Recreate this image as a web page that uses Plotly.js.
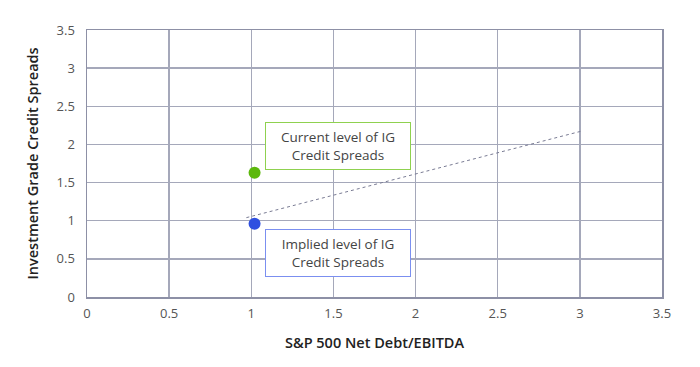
<!DOCTYPE html>
<html><head><meta charset="utf-8">
<script src="https://cdn.plot.ly/plotly-3.0.1.min.js"></script>
<style>html,body{margin:0;padding:0;background:#fff}#c{width:700px;height:367px}</style>
</head><body><div id="c"></div>
<script>
const currentX = [1.02];
const currentY = [1.63];
const impliedX = [1.02];
const impliedY = [0.96];
const trendX = [0.97, 3.02];
const trendY = [1.04, 2.18];
const xTicks = [0, 0.5, 1, 1.5, 2, 2.5, 3, 3.5];
const yTicks = [0, 0.5, 1, 1.5, 2, 2.5, 3, 3.5];
const labelCurrent = 'Current level of IG<br>Credit Spreads';
const labelImplied = 'Implied level of IG<br>Credit Spreads';

const font = '"Open Sans", sans-serif';
const data = [
  {x: trendX, y: trendY, mode: 'lines', line: {color: '#7a7c94', width: 1, dash: 'dot'}, hoverinfo: 'skip'},
  {x: currentX, y: currentY, mode: 'markers', marker: {color: '#5cb80c', size: 12}},
  {x: impliedX, y: impliedY, mode: 'markers', marker: {color: '#2f4fe0', size: 12}}
];
const axisCommon = {
  range: [0, 3.5],
  showgrid: true, gridcolor: '#a5a8ba', gridwidth: 1.5,
  zeroline: false, showline: true, linecolor: '#8d90a6', linewidth: 1.5, mirror: true,
  ticks: '', tickfont: {family: font, size: 13, color: '#555'}, fixedrange: true
};
const layout = {
  width: 700, height: 367,
  margin: {l: 87, r: 38, t: 30, b: 70},
  paper_bgcolor: '#fff', plot_bgcolor: '#fff',
  showlegend: false,
  xaxis: Object.assign({}, axisCommon, {tickvals: xTicks, ticktext: xTicks.map(String), ticklabelstandoff: 4,
    title: {text: 'S&P 500 Net Debt/EBITDA', font: {family: font, size: 14.5, color: '#222', weight: 600}, standoff: 17}}),
  yaxis: Object.assign({}, axisCommon, {tickvals: yTicks, ticktext: yTicks.map(String), ticklabelstandoff: 8,
    title: {text: 'Investment Grade Credit Spreads', font: {family: font, size: 14.5, color: '#222', weight: 600}, standoff: 14}}),
  annotations: [
    {x: 1.528, y: 1.98, xref: 'x', yref: 'y', text: labelCurrent, showarrow: false,
     font: {family: font, size: 13.5, color: '#444'}, bgcolor: '#fff', bordercolor: '#8fd14f', borderwidth: 1,
     borderpad: 5, width: 134, align: 'center'},
    {x: 1.528, y: 0.58, xref: 'x', yref: 'y', text: labelImplied, showarrow: false,
     font: {family: font, size: 13.5, color: '#444'}, bgcolor: '#fff', bordercolor: '#7b8ff0', borderwidth: 1,
     borderpad: 5, width: 134, align: 'center'}
  ]
};
Plotly.newPlot('c', data, layout, {displayModeBar: false, staticPlot: true});
</script></body></html>
